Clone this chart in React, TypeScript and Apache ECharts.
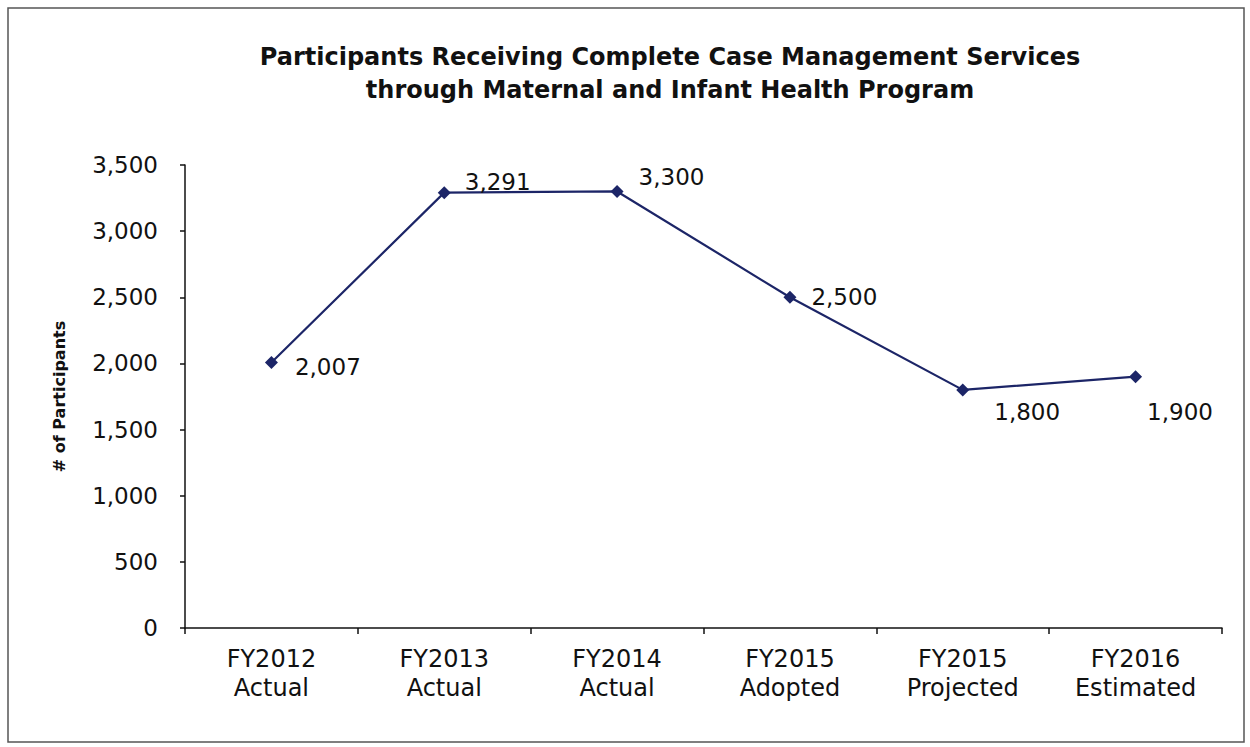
import React, { useEffect, useRef } from "react";
import * as echarts from "echarts";

const titleLines = [
  "Participants Receiving Complete Case Management Services",
  "through Maternal and Infant Health Program",
];
const categories = [
  "FY2012\nActual",
  "FY2013\nActual",
  "FY2014\nActual",
  "FY2015\nAdopted",
  "FY2015\nProjected",
  "FY2016\nEstimated",
];
const participants = [2007, 3291, 3300, 2500, 1800, 1900];
const yAxisName = "# of Participants";
// label offsets relative to the marker (dx, dy) in px
const labelOffsets: [number, number][] = [
  [17, 4],
  [14, -11],
  [15, -14],
  [15, 0],
  [25, 22],
  [5, 35],
];

const FONT = "DejaVu Sans";
const INK = "#111111";
const LINE = "#1c2567";

export default function App() {
  const ref = useRef<HTMLDivElement>(null);
  useEffect(() => {
    const chart = echarts.init(ref.current!, null, { renderer: "svg" });
    chart.setOption({
      animation: false,
      backgroundColor: "#ffffff",
      title: {
        text: titleLines.join("\n"),
        left: 665,
        top: 35,
        textAlign: "center",
        textStyle: {
          fontFamily: FONT,
          fontWeight: "bold",
          fontSize: 24,
          lineHeight: 33,
          color: INK,
        },
      },
      graphic: [
        {
          type: "rect",
          shape: { x: 8, y: 8, width: 1236, height: 734 },
          style: { fill: "none", stroke: "#555", lineWidth: 1.5 },
          silent: true,
        },
      ],
      grid: { left: 185, right: 28, top: 165, bottom: 119 },
      xAxis: {
        type: "category",
        data: categories,
        boundaryGap: true,
        axisLine: { lineStyle: { color: INK, width: 1.5 } },
        axisTick: { show: true, length: 6, lineStyle: { color: INK, width: 1.5 } },
        axisLabel: {
          fontFamily: FONT,
          fontSize: 24,
          lineHeight: 29,
          color: INK,
          margin: 16,
        },
      },
      yAxis: {
        type: "value",
        min: 0,
        max: 3500,
        interval: 500,
        name: yAxisName,
        nameLocation: "middle",
        nameGap: 118,
        nameRotate: 90,
        nameTextStyle: {
          fontFamily: FONT,
          fontWeight: "bold",
          fontSize: 16,
          color: INK,
        },
        splitLine: { show: false },
        axisLine: { show: true, lineStyle: { color: INK, width: 1.5 } },
        axisTick: { show: true, length: 5, lineStyle: { color: INK, width: 1.5 } },
        axisLabel: {
          fontFamily: FONT,
          fontSize: 23,
          color: INK,
          margin: 27,
          formatter: (v: number) => v.toLocaleString("en-US"),
        },
      },
      series: [
        {
          type: "line",
          data: participants.map((v, i) => ({
            value: v,
            label: {
              show: true,
              position: "right",
              distance: 0,
              offset: labelOffsets[i],
            },
          })),
          symbol: "diamond",
          symbolSize: 13,
          itemStyle: { color: LINE },
          lineStyle: { color: LINE, width: 2.2 },
          label: {
            show: true,
            fontFamily: FONT,
            fontSize: 23,
            color: INK,
            formatter: (p: any) => Number(p.value).toLocaleString("en-US"),
          },
        },
      ],
    });
    return () => chart.dispose();
  }, []);
  return (
    <div
      ref={ref}
      style={{ position: "fixed", left: 0, top: 0, width: 1250, height: 747 }}
    />
  );
}
